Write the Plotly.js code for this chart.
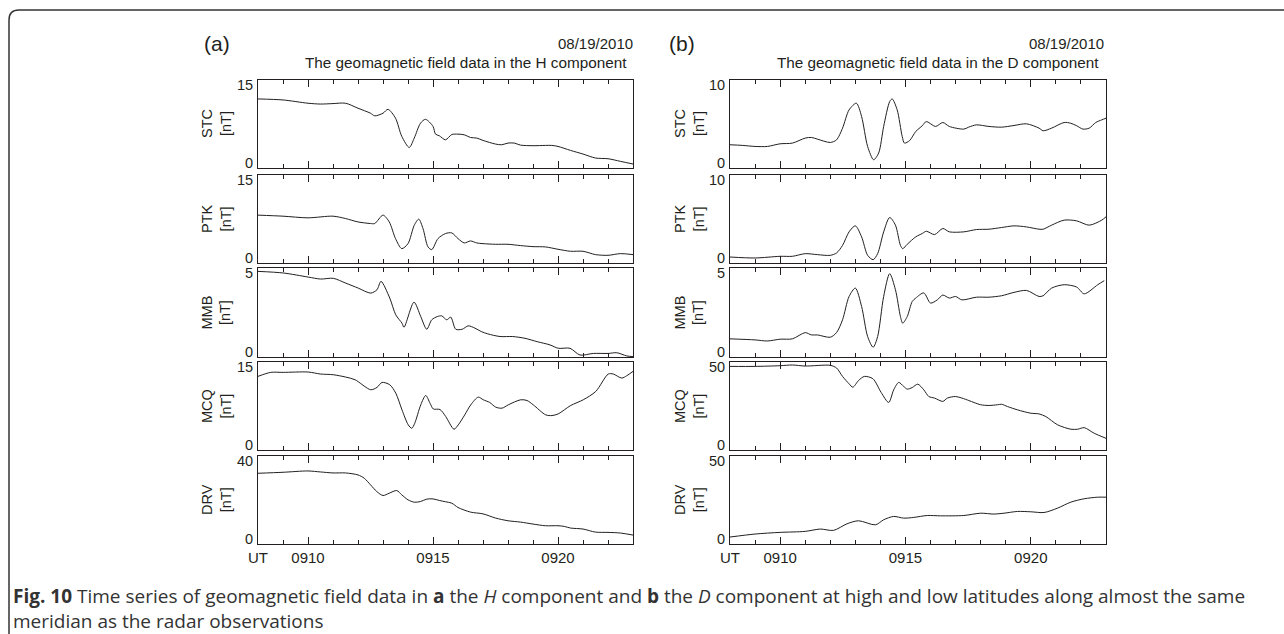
<!DOCTYPE html>
<html>
<head>
<meta charset="utf-8">
<script src="https://cdn.plot.ly/plotly-3.0.1.min.js"></script>
<style>
  html, body { margin: 0; padding: 0; background: #fff; }
  #chart { width: 1284px; height: 634px; }
</style>
</head>
<body>
<div id="chart"></div>
<script>
// Geomagnetic field time series, 08/19/2010, 09:08-09:23 UT
// Time in minutes after 09:00 UT

// ---- (a) H component ----
const hSTC_t = [8, 9, 10, 10.5, 11, 11.5, 12, 12.5, 12.67, 13, 13.2, 13.5, 13.75, 14.05, 14.25, 14.5, 14.7, 15, 15.1, 15.25, 15.5, 15.75, 16, 16.25, 16.5, 16.75, 17, 17.5, 17.75, 18, 18.25, 18.5, 19, 19.5, 19.75, 20, 20.5, 21, 21.5, 22, 22.5, 23];
const hSTC   = [11.77, 11.6, 11.04, 10.9, 10.98, 11.04, 10.19, 9.34, 8.89, 9.34, 10.0, 8.5, 5.4, 3.5, 5.1, 7.64, 8.3, 7.1, 5.77, 5.5, 4.8, 5.7, 5.77, 5.66, 5.2, 5.1, 4.7, 4.08, 3.96, 4.25, 4.25, 3.9, 3.8, 3.85, 3.85, 3.68, 3.0, 2.38, 1.7, 1.58, 1.13, 0.68];

const hPTK_t = [8, 9, 10, 11, 11.5, 12, 12.5, 12.67, 13, 13.25, 13.5, 13.75, 14, 14.25, 14.43, 14.6, 14.8, 14.95, 15.2, 15.5, 15.75, 16, 16.25, 16.5, 16.75, 17, 17.5, 18, 18.5, 19, 19.5, 20, 20.5, 21, 21.5, 22, 22.5, 23];
const hPTK   = [8.16, 7.98, 7.7, 7.98, 7.58, 7.0, 6.73, 6.73, 8.16, 7.0, 4.16, 2.45, 3.3, 6.44, 7.47, 5.87, 2.74, 2.28, 4.16, 5.02, 5.13, 4.16, 3.42, 3.76, 3.42, 3.3, 3.19, 3.19, 2.97, 2.79, 2.74, 2.34, 2.0, 2.0, 1.43, 1.31, 1.6, 1.43];

const hMMB_t = [8, 9.01, 10.01, 10.5, 11.01, 11.51, 12.01, 12.51, 12.76, 12.92, 13.27, 13.51, 13.76, 13.84, 14.24, 14.51, 14.75, 14.95, 15.17, 15.35, 15.55, 15.71, 15.91, 16.17, 16.41, 16.68, 16.93, 17.19, 17.68, 18.19, 18.68, 19.17, 19.68, 20.01, 20.48, 20.88, 21.41, 22.01, 22.35, 22.75, 23];
const hMMB   = [4.81, 4.72, 4.49, 4.38, 4.42, 4.15, 3.87, 3.59, 3.78, 4.25, 3.31, 2.37, 1.9, 1.67, 3.08, 2.27, 1.56, 2.09, 2.27, 2.31, 2.09, 2.24, 1.56, 1.56, 1.75, 1.62, 1.43, 1.3, 1.15, 1.15, 1.05, 0.86, 0.68, 0.49, 0.49, 0.11, 0.2, 0.2, 0.24, 0.06, 0.02];

const hMCQ_t = [8, 8.51, 9.01, 10.01, 10.5, 11.01, 11.51, 11.88, 12.51, 12.76, 12.96, 13.27, 13.51, 13.76, 14.01, 14.15, 14.27, 14.51, 14.71, 14.88, 15.01, 15.28, 15.51, 15.84, 16.01, 16.27, 16.51, 16.81, 17.01, 17.27, 17.51, 17.76, 18.01, 18.51, 18.76, 19.01, 19.51, 19.76, 20.01, 20.51, 21.01, 21.51, 22.01, 22.21, 22.55, 22.75, 23];
const hMCQ   = [12.55, 13.23, 13.23, 13.29, 12.95, 12.83, 12.43, 11.98, 10.27, 10.67, 11.52, 11.12, 9.7, 6.84, 4.28, 3.7, 4.56, 7.7, 9.3, 7.98, 7.0, 6.9, 5.7, 3.54, 4.28, 5.99, 7.7, 9.01, 8.56, 8.1, 7.3, 7.13, 7.7, 8.56, 8.44, 7.7, 5.99, 5.87, 6.16, 7.59, 8.56, 9.98, 12.95, 12.95, 12.26, 12.66, 13.4];

const hDRV_t = [8, 9, 10, 10.5, 11, 11.5, 12, 12.25, 12.5, 12.75, 13, 13.25, 13.55, 13.75, 14, 14.25, 14.5, 14.75, 15, 15.25, 15.5, 15.75, 16, 16.5, 17, 17.5, 18, 18.5, 19, 19.5, 20, 20.25, 20.5, 21, 21.5, 22, 22.5, 23];
const hDRV   = [32.15, 32.6, 33.2, 32.75, 32.3, 32.3, 31.4, 29.9, 26.9, 23.85, 22.04, 23.1, 24.3, 22.34, 20.08, 19.0, 19.3, 20.4, 20.5, 19.8, 19.2, 18.57, 16.6, 14.5, 13.7, 11.8, 10.57, 9.96, 9.06, 8.3, 8.3, 8.0, 7.25, 6.8, 5.4, 5.28, 4.98, 4.07];

// ---- (b) D component ----
const dSTC_t = [8, 8.49, 9, 9.49, 10, 10.49, 11, 11.25, 11.49, 12, 12.25, 12.49, 12.75, 13.04, 13.25, 13.49, 13.73, 13.93, 14.13, 14.37, 14.47, 14.67, 14.87, 14.96, 15.17, 15.41, 15.67, 15.83, 16.2, 16.49, 16.75, 17.33, 17.52, 17.83, 18.33, 18.83, 19.33, 19.83, 20.33, 20.49, 20.83, 21.33, 21.59, 21.83, 22.08, 22.33, 22.59, 22.83, 23];
const dSTC   = [2.64, 2.57, 2.45, 2.45, 2.75, 2.83, 3.4, 3.47, 3.28, 2.9, 3.2, 4.53, 6.6, 7.36, 5.85, 2.45, 0.94, 1.7, 4.72, 7.55, 7.85, 6.6, 3.58, 2.83, 3.13, 4.15, 4.8, 5.28, 4.72, 5.17, 4.72, 4.42, 4.64, 4.9, 4.72, 4.64, 4.83, 5.02, 4.53, 4.23, 4.53, 5.17, 5.09, 4.8, 4.42, 4.53, 5.17, 5.47, 5.66];

const dPTK_t = [8, 9, 10, 10.49, 11, 11.49, 12, 12.25, 12.49, 12.75, 13, 13.25, 13.49, 13.71, 13.89, 14.13, 14.37, 14.6, 14.8, 14.89, 15.07, 15.41, 15.67, 15.83, 16.16, 16.49, 16.75, 17.33, 17.83, 18.33, 18.83, 19.33, 19.83, 20.33, 20.49, 20.83, 21.33, 21.83, 22.33, 22.83, 23];
const dPTK   = [0.68, 0.57, 0.76, 0.76, 1.06, 0.95, 0.87, 1.14, 2.0, 3.54, 4.22, 2.97, 0.87, 0.38, 1.06, 3.54, 5.17, 4.3, 2.0, 1.63, 2.13, 2.97, 3.35, 3.61, 3.23, 3.92, 3.54, 3.54, 3.8, 3.84, 4.03, 4.22, 4.1, 3.84, 3.84, 4.3, 4.87, 4.79, 4.3, 4.87, 5.25];

const dMMB_t = [8, 9, 9.49, 10, 10.49, 11, 11.25, 11.49, 12, 12.25, 12.49, 12.75, 13, 13.25, 13.49, 13.71, 13.89, 14.13, 14.37, 14.6, 14.8, 14.89, 15.07, 15.27, 15.41, 15.73, 16, 16.27, 16.49, 16.75, 17, 17.25, 17.83, 18.33, 18.83, 19.33, 19.83, 20.33, 20.49, 20.83, 21.33, 21.83, 22.13, 22.67, 22.93];
const dMMB   = [1.02, 0.96, 0.9, 1.0, 1.02, 1.37, 1.24, 1.24, 1.11, 1.37, 2.09, 3.4, 3.87, 2.84, 1.15, 0.55, 1.15, 3.4, 4.68, 3.78, 2.27, 1.9, 2.27, 3.12, 3.31, 3.6, 3.03, 3.21, 3.48, 3.31, 3.4, 3.21, 3.36, 3.36, 3.44, 3.63, 3.74, 3.4, 3.44, 3.87, 4.06, 3.93, 3.55, 4.06, 4.29];

const dMCQ_t = [8, 9, 10, 10.49, 11, 12, 12.25, 12.49, 12.75, 12.9, 13.13, 13.36, 13.7, 14.03, 14.33, 14.53, 14.73, 14.93, 15.07, 15.27, 15.49, 15.73, 15.93, 16.16, 16.49, 16.67, 17, 17.25, 17.53, 17.73, 18, 18.33, 18.67, 18.83, 19.07, 19.47, 20, 20.33, 20.6, 21.07, 21.6, 21.87, 22.13, 22.53, 23];
const dMCQ   = [47.5, 47.5, 47.9, 48.3, 47.7, 48.1, 46.6, 41.8, 37.6, 35.7, 39.5, 41.8, 40.5, 32.7, 27.0, 34.2, 38.4, 36.1, 34.6, 35.5, 37.4, 34.2, 30.4, 29.5, 27.6, 29.5, 30.4, 29.5, 28.1, 27.0, 25.7, 25.3, 25.7, 26.0, 24.7, 22.8, 20.9, 20.5, 19.0, 14.3, 11.8, 11.8, 12.7, 9.5, 6.65];

const dDRV_t = [8, 9, 10, 11, 11.6, 12.13, 12.67, 13.13, 13.8, 14.13, 14.53, 14.93, 15.33, 15.87, 16.4, 17.33, 18, 18.53, 18.93, 19.47, 20, 20.53, 21.07, 21.6, 22.13, 22.67, 23];
const dDRV   = [3.96, 5.66, 6.6, 7.17, 8.49, 7.74, 11.5, 13.2, 10.9, 13.77, 15.66, 14.7, 15.1, 16.2, 16.0, 16.2, 17.5, 17.0, 17.5, 18.5, 18.3, 17.9, 20.4, 23.8, 25.7, 26.6, 26.6];

// Station names, y-axis upper limits and time axis labels
const stations = ['STC', 'PTK', 'MMB', 'MCQ', 'DRV'];
const hMax = [15, 15, 5, 15, 40];
const dMax = [10, 10, 5, 50, 50];
const timeTickVals = [8, 10, 15, 20];
const timeTickText = ['UT', '0910', '0915', '0920'];

const hSeries = [[hSTC_t, hSTC], [hPTK_t, hPTK], [hMMB_t, hMMB], [hMCQ_t, hMCQ], [hDRV_t, hDRV]];
const dSeries = [[dSTC_t, dSTC], [dPTK_t, dPTK], [dMMB_t, dMMB], [dMCQ_t, dMCQ], [dDRV_t, dDRV]];

// ---- page geometry (pixels) ----
const W = 1284, H = 634;
const colX = [[258, 633], [730, 1106]];
const rowY = [[80, 168], [175, 263], [268, 357], [362, 450], [456, 544]];
const px = v => v / W;
const py = v => 1 - v / H;

const ink = '#231f20';
const family = 'Liberation Sans, Arial, Helvetica, sans-serif';
const axisFont = { family: family, size: 15, color: ink };
const scaleFont = { family: family, size: 14.5, color: ink };

const data = [];
const layout = {
  width: W, height: H,
  margin: { l: 0, r: 0, t: 0, b: 0 },
  paper_bgcolor: '#ffffff',
  plot_bgcolor: '#ffffff',
  showlegend: false,
  annotations: [],
  shapes: []
};

[hSeries, dSeries].forEach((series, c) => {
  const maxes = c === 0 ? hMax : dMax;
  series.forEach((s, r) => {
    const n = c * 5 + r + 1;
    data.push({
      type: 'scatter', mode: 'lines',
      x: s[0], y: s[1],
      xaxis: 'x' + n, yaxis: 'y' + n,
      line: { color: ink, width: 1, shape: 'spline', smoothing: 0.8 },
      hoverinfo: 'skip'
    });
    layout['xaxis' + n] = {
      domain: [px(colX[c][0]), px(colX[c][1])],
      anchor: 'y' + n,
      range: [8, 23],
      showline: true, linecolor: ink, linewidth: 1.2, mirror: 'allticks',
      ticks: 'inside', ticklen: 7, tickwidth: 1, tickcolor: ink,
      tickmode: 'array', tickvals: timeTickVals, ticktext: timeTickText,
      showticklabels: r === 4,
      tickfont: axisFont,
      minor: { tickmode: 'linear', tick0: 8, dtick: 1, ticks: 'inside', ticklen: 4, tickwidth: 1, tickcolor: ink, showgrid: false },
      showgrid: false, zeroline: false, fixedrange: true
    };
    layout['yaxis' + n] = {
      domain: [py(rowY[r][1]), py(rowY[r][0])],
      anchor: 'x' + n,
      range: [0, maxes[r]],
      showline: true, linecolor: ink, linewidth: 1.2, mirror: true,
      ticks: '', showticklabels: false,
      showgrid: false, zeroline: false, fixedrange: true
    };
    // scale end labels, set just inside the panel's vertical extent
    [[0, 'bottom'], [maxes[r], 'top']].forEach(([v, side]) => {
      layout.annotations.push({
        xref: 'paper', yref: 'y' + n,
        x: px(colX[c][0] - 3), y: v,
        xanchor: 'right', yanchor: 'middle',
        yshift: side === 'bottom' ? 5.5 : -5,
        text: String(v), showarrow: false, font: scaleFont
      });
    });
    // station name / unit label, rotated
    layout.annotations.push({
      xref: 'paper', yref: 'paper',
      x: px(c === 0 ? 216 : 689), y: py((rowY[r][0] + rowY[r][1]) / 2),
      xanchor: 'center', yanchor: 'middle',
      text: stations[r] + '<br>[nT]', textangle: -90,
      showarrow: false, font: { family: family, size: 14.5, color: ink }
    });
  });
});

// panel letters, dates and titles
[
  { x: 217, y: 43, text: '(a)', size: 21, anchor: 'center' },
  { x: 682, y: 43, text: '(b)', size: 21, anchor: 'center' },
  { x: 635, y: 43, text: '08/19/2010', size: 15, anchor: 'right' },
  { x: 1106, y: 43, text: '08/19/2010', size: 15, anchor: 'right' },
  { x: 629, y: 62, text: 'The geomagnetic field data in the H component', size: 15.3, anchor: 'right' },
  { x: 1101, y: 62, text: 'The geomagnetic field data in the D component', size: 15.3, anchor: 'right' }
].forEach(a => layout.annotations.push({
  xref: 'paper', yref: 'paper', x: px(a.x), y: py(a.y),
  xanchor: a.anchor, yanchor: 'middle', text: a.text, showarrow: false,
  font: { family: family, size: a.size, color: ink }
}));

// figure caption (two lines)
layout.annotations.push({
  xref: 'paper', yref: 'paper', x: px(11), y: py(608.5), xanchor: 'left', yanchor: 'middle',
  align: 'left',
  text: '<b>Fig. 10</b> Time series of geomagnetic field data in <b>a</b> the <i>H</i> component and <b>b</b> the <i>D</i> component at high and low latitudes along almost the same' +
        '<br>meridian as the radar observations',
  showarrow: false,
  font: { family: 'Open Sans, Noto Sans, sans-serif', size: 19, color: '#333333' }
});

// rounded frame around the figure (top and left edges)
const fx = px(9), fy = py(10), rx = 10 / W, ry = 10 / H;
layout.shapes.push({
  type: 'path', xref: 'paper', yref: 'paper', layer: 'above',
  path: `M ${fx},-0.05 L ${fx},${fy - ry} Q ${fx},${fy} ${fx + rx},${fy} L 1.05,${fy}`,
  line: { color: '#333333', width: 1.5 }
});

Plotly.newPlot('chart', data, layout, { displayModeBar: false, staticPlot: true });
</script>
</body>
</html>
